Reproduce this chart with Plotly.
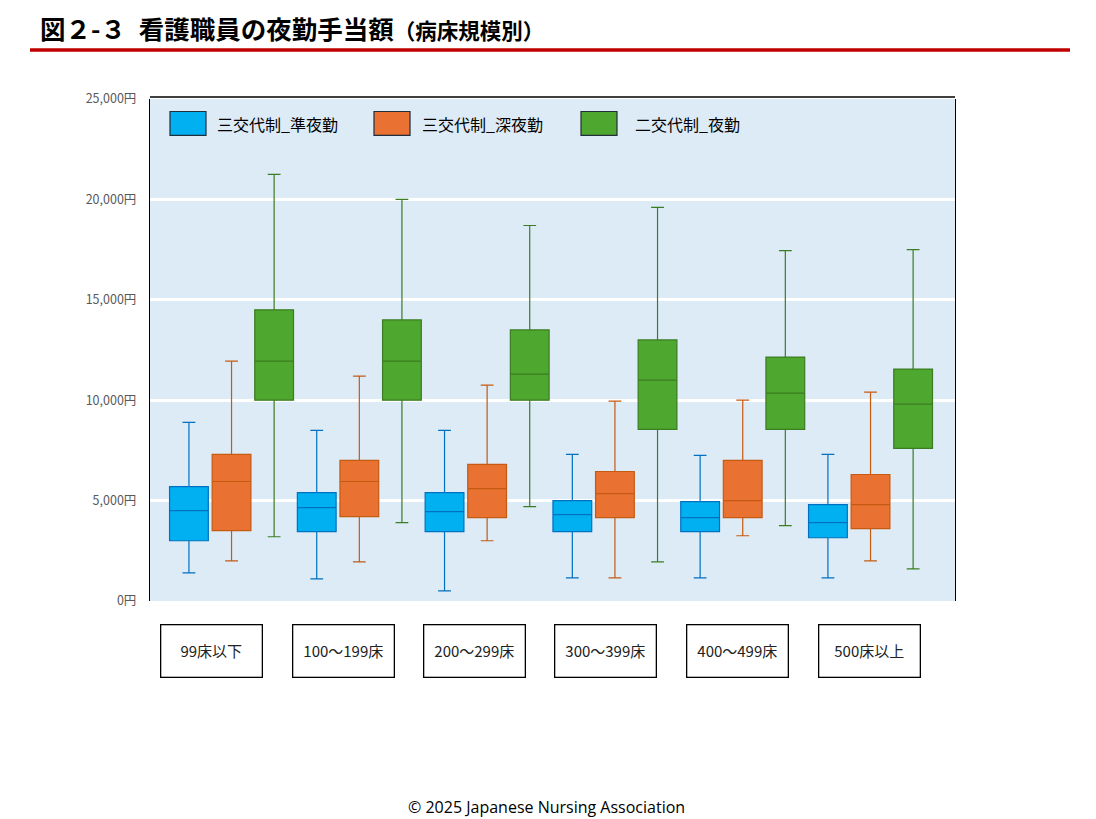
import plotly.graph_objects as go

# ---- data (yen) ----
categories = ["99床以下", "100～199床", "200～299床", "300～399床", "400～499床", "500床以上"]
series_names = ["三交代制_準夜勤", "三交代制_深夜勤", "二交代制_夜勤"]

jun_lower = [1400, 1100, 500, 1150, 1150, 1150]
jun_q1 = [3000, 3450, 3450, 3450, 3450, 3150]
jun_median = [4500, 4650, 4450, 4300, 4150, 3900]
jun_q3 = [5700, 5400, 5400, 5000, 4950, 4800]
jun_upper = [8900, 8500, 8500, 7300, 7250, 7300]

shin_lower = [2000, 1950, 3000, 1150, 3250, 2000]
shin_q1 = [3500, 4200, 4150, 4150, 4150, 3600]
shin_median = [5950, 5950, 5600, 5350, 5000, 4800]
shin_q3 = [7300, 7000, 6800, 6450, 7000, 6300]
shin_upper = [11950, 11200, 10750, 9950, 10000, 10400]

ni_lower = [3200, 3900, 4700, 1950, 3750, 1600]
ni_q1 = [10000, 10000, 10000, 8550, 8550, 7600]
ni_median = [11950, 11950, 11300, 11000, 10350, 9800]
ni_q3 = [14500, 14000, 13500, 13000, 12150, 11550]
ni_upper = [21250, 20000, 18700, 19600, 17450, 17500]

y_tick_values = [0, 5000, 10000, 15000, 20000, 25000]
y_tick_labels = ["0円", "5,000円", "10,000円", "15,000円", "20,000円", "25,000円"]

fills = ["#00B0F0", "#E97132", "#4EA72E"]
lines = ["#0070C0", "#C55A11", "#3A7D22"]

JP = "Noto Sans CJK JP"

fig = go.Figure()
stats = [
    (jun_lower, jun_q1, jun_median, jun_q3, jun_upper),
    (shin_lower, shin_q1, shin_median, shin_q3, shin_upper),
    (ni_lower, ni_q1, ni_median, ni_q3, ni_upper),
]
for i, (lo, q1, med, q3, up) in enumerate(stats):
    fig.add_trace(go.Box(
        x=categories, lowerfence=lo, q1=q1, median=med, q3=q3, upperfence=up,
        name=series_names[i], fillcolor=fills[i],
        line=dict(color=lines[i], width=1.2), whiskerwidth=0.33,
        boxpoints=False, showlegend=False, hoverinfo="skip",
    ))

W, H = 1096, 819
L, R, T, B = 150, 955, 98.5, 601  # page pixel coordinates of the plot area
pw, ph = R - L, B - T

def px(x):
    return (x - L) / pw

def py(y):
    return (B - y) / ph

fig.update_layout(
    width=W, height=H,
    margin=dict(l=L, r=W - R, t=T, b=H - B),
    paper_bgcolor="white", plot_bgcolor="#DDEBF7",
    boxmode="group", boxgap=0.0, boxgroupgap=0.09,
    font=dict(family=JP, color="#000000"),
    xaxis=dict(range=[-0.638, 5.661], showticklabels=False, showgrid=False,
               zeroline=False, showline=False, ticks=""),
    yaxis=dict(range=[0, 25000], tickvals=y_tick_values, ticktext=y_tick_labels,
               showgrid=True, gridcolor="white", gridwidth=3, zeroline=False,
               showline=True, linecolor="#000000", linewidth=1.3, mirror=True,
               ticks="", ticklabelstandoff=10,
               tickfont=dict(family=JP, size=12.5, color="#595959")),
)

shapes = []
# top border of plot
shapes.append(dict(type="line", xref="paper", yref="paper", x0=0, x1=1, y0=1.004, y1=1.004,
                   line=dict(color="#000000", width=1.3)))
# red title underline
shapes.append(dict(type="line", xref="paper", yref="paper", x0=px(30), x1=px(1070),
                   y0=py(49.5), y1=py(49.5), line=dict(color="#C00000", width=3.5)))

annotations = []
# custom legend
legend_sw_x = [170, 374, 581]
legend_tx_x = [215, 420, 633]
for i in range(3):
    shapes.append(dict(type="rect", xref="paper", yref="paper",
                       x0=px(legend_sw_x[i]), x1=px(legend_sw_x[i] + 36),
                       y0=py(135), y1=py(111), fillcolor=fills[i],
                       line=dict(color="#1F2D3D", width=1.2)))
    annotations.append(dict(xref="paper", yref="paper", x=px(legend_tx_x[i]), y=py(124),
                            text=series_names[i], showarrow=False, xanchor="left",
                            yanchor="middle", font=dict(family=JP, size=16, color="#000000")))

# category label boxes
label_cx = [211, 343, 474, 605, 737, 869]
for i, c in enumerate(categories):
    annotations.append(dict(xref="paper", yref="paper", x=px(label_cx[i]), y=py(651.5),
                            text=c, showarrow=False, xanchor="center", yanchor="middle",
                            width=100, height=51, borderpad=0, bordercolor="#000000",
                            borderwidth=1.3, bgcolor="white",
                            font=dict(family=JP, size=15, color="#222222")))

# title
annotations.append(dict(xref="paper", yref="paper", x=px(38), y=py(27),
                        text="<b>図２-３\u2002看護職員の夜勤手当額</b><b><span style='font-size:21.5px'>（病床規模別）</span></b>",
                        showarrow=False, xanchor="left", yanchor="middle",
                        font=dict(family=JP, size=25.5, color="#000000")))
# footer
annotations.append(dict(xref="paper", yref="paper", x=px(546), y=py(807),
                        text="© 2025 Japanese Nursing Association", showarrow=False,
                        xanchor="center", yanchor="middle",
                        font=dict(family="Open Sans", size=16, color="#000000")))

fig.update_layout(shapes=shapes, annotations=annotations)
fig.write_html(
    "out.html",
    config={"displayModeBar": False},
    post_script="document.body.style.margin='0';document.documentElement.style.overflow='hidden';",
)
